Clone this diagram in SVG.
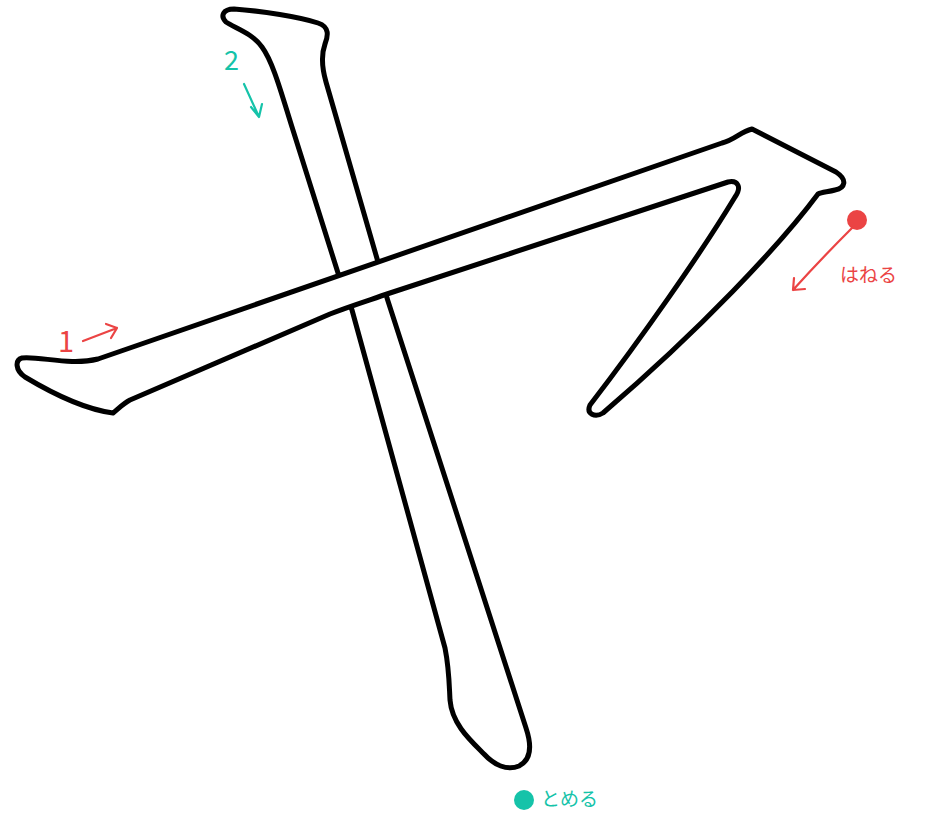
<svg xmlns="http://www.w3.org/2000/svg" width="926" height="814" viewBox="0 0 926 814">
<style>
.stroke{fill:#fff;stroke:#000;stroke-width:5;stroke-linejoin:round}
.red{fill:#EB4444}
.teal{fill:#15C3A9}
.ra{fill:none;stroke:#EB4444;stroke-width:2.2;stroke-linecap:round;stroke-linejoin:round}
.ta{fill:none;stroke:#15C3A9;stroke-width:2.2;stroke-linecap:round;stroke-linejoin:round}
.lbl{font-family:"Noto Sans CJK JP","Noto Sans",sans-serif}
</style>
<rect width="926" height="814" fill="#fff"/>
<g id="stroke2">
<path class="stroke" d="M234,9 C262,11 300,17 318,23 C330,27 328,36 325,44 C321,55 322,68 326,82 L378,262 L387,298 L526,728 C532,746 531,760 519,766 C507,771 494,765 484,754 C470,740 452,724 450,700 C449,680 449,668 445,648 L352,310 L338,273 L292,127 C281,92 273,62 262,47 C252,33 235,28 226,22 C220,16 223,9 234,9 Z"/>
</g>
<g id="stroke1">
<path class="stroke" d="M22,358 C40,356 70,366 98,359 L722,143 C735,140 740,132 752,129 L836,172 C848,180 845,188 835,190 C828,192 822,192 818,194 C780,245 700,330 603,413 C595,418 586,414 590,405 C640,340 700,255 735,197 C742,187 738,180 728,182 L390,293 C370,300 350,306 330,314 L130,400 C124,403 119,408 113,413 C90,410 60,398 25,377 C15,370 15,360 22,358 Z"/>
</g>
<g id="labels">
<text class="lbl red" x="58" y="352" font-size="29">1</text>
<path class="ra" d="M83,341 L117,328 M106,324 L117,328 L111,338"/>
<text class="lbl teal" x="224" y="70" font-size="27">2</text>
<path class="ta" d="M244,84 L259,117 M251,107 L259,117 L262,104"/>
<circle class="red" cx="857" cy="220" r="10"/>
<path class="ra" d="M852,228 Q820,260 793,290 M794,278 L793,290 L805,289"/>
<text class="lbl red" x="840" y="282" font-size="19">はねる</text>
<circle class="teal" cx="524" cy="800" r="10"/>
<text class="lbl teal" x="541" y="806" font-size="19">とめる</text>
</g>
</svg>
